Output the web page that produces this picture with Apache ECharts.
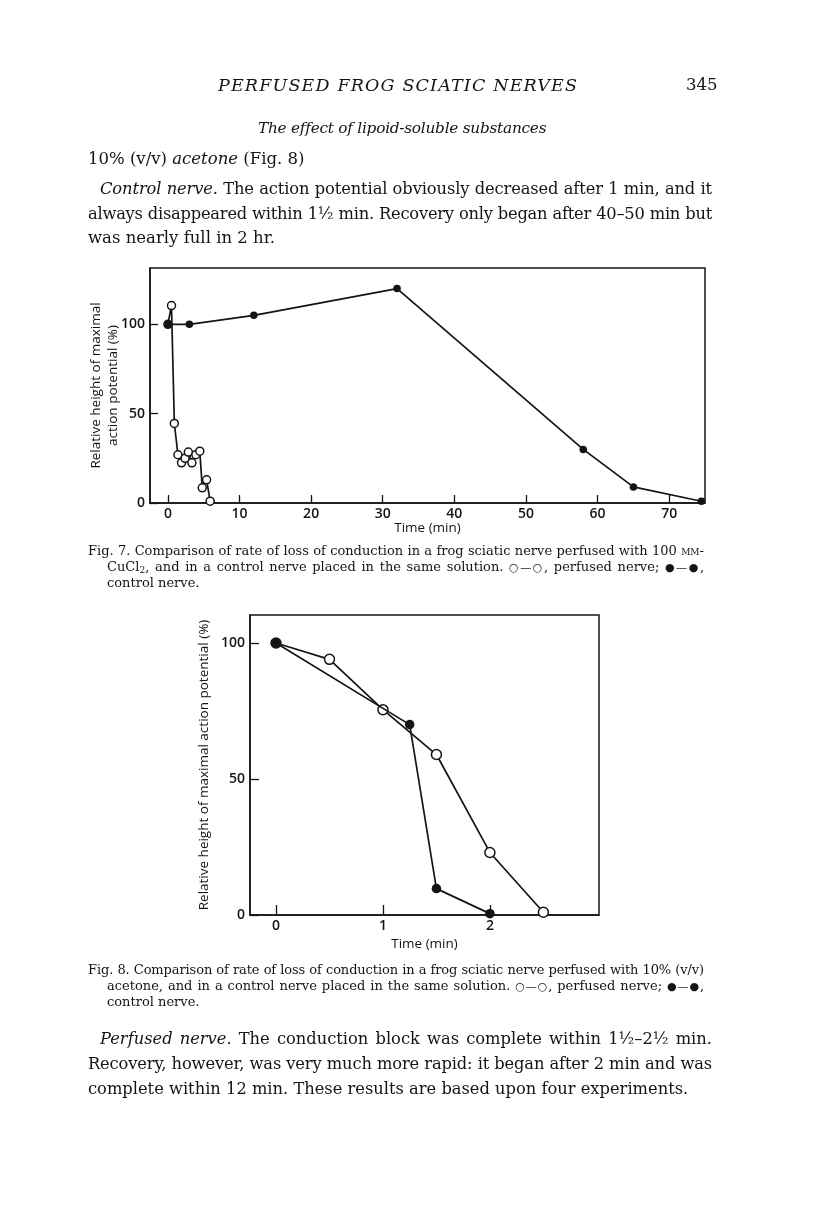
<!DOCTYPE html>
<html><head><meta charset="utf-8">
<script src="https://cdn.jsdelivr.net/npm/echarts@6/dist/echarts.min.js"></script>
<style>
html,body{margin:0;padding:0;background:#fff;}
#page{position:relative;width:816px;height:1221px;overflow:hidden;background:#fff;}
#chart{position:absolute;left:0;top:0;width:816px;height:1221px;}
.ln{position:absolute;white-space:nowrap;font-family:"DejaVu Serif","Liberation Serif",serif;color:#141414;}
.sc{font-variant:small-caps;}
.sym{font-size:0.85em;}
sub{font-size:0.7em;vertical-align:-0.25em;line-height:0;}
</style></head>
<body><div id="page"><div id="chart"></div></div>
<script>
// ---------- chart data ----------
// Fig. 7 (100 mM-CuCl2)
const fig7XTicks = [0, 10, 20, 30, 40, 50, 60, 70];
const fig7YTicks = [0, 50, 100];
const fig7Perfused = [[0,100],[0.5,110.5],[0.9,44.5],[1.4,27],[1.9,22.5],[2.4,25],[2.85,28.5],[3.35,22.5],[3.9,27],[4.45,29],[4.8,8.5],[5.4,13],[5.9,1]];
const fig7Control = [[0,100],[3,100],[12,105],[32,120],[58,30],[65,9],[74.5,1]];
// Fig. 8 (10% acetone)
const fig8XTicks = [0, 1, 2];
const fig8YTicks = [0, 50, 100];
const fig8Perfused = [[0,100],[0.5,94],[1,75.5],[1.5,59],[2,23],[2.5,1]];
const fig8Control = [[0,100],[1.25,70],[1.5,9.7],[2,0.5]];

// ---------- page text ----------
const textLines = [
  {x:218, y:85, w:359, size:17.5, lh:22, italic:true, mode:'fit', html:'PERFUSED FROG SCIATIC NERVES'},
  {x:686, y:85, size:16.5, lh:22, html:'345'},
  {x:258, y:128, w:288, size:15.3, lh:22, italic:true, mode:'fit', html:'The effect of lipoid-soluble substances'},
  {x:88, y:159, size:16.5, lh:22, html:'10% (v/v) <i>acetone</i> (Fig. 8)'},
  {x:100, y:189, w:612, size:16.3, lh:22, mode:'justify', html:'<i>Control nerve.</i> The action potential obviously decreased after 1 min, and it'},
  {x:88, y:214, w:624, size:16.3, lh:22, mode:'justify', html:'always disappeared within 1½ min. Recovery only began after 40–50 min but'},
  {x:88, y:238, size:16.5, lh:22, html:'was nearly full in 2 hr.'},
  {x:88, y:551, w:616, size:13, lh:16, mode:'justify', html:'Fig. 7. Comparison of rate of loss of conduction in a frog sciatic nerve perfused with 100 <span class="sc">mm</span>-'},
  {x:107, y:567, w:597, size:13, lh:16, mode:'justify', html:'CuCl<sub>2</sub>, and in a control nerve placed in the same solution. <span class="sym">○—○</span>, perfused nerve; <span class="sym">●—●</span>,'},
  {x:107, y:583, size:13, lh:16, html:'control nerve.'},
  {x:88, y:970, w:616, size:13, lh:16, mode:'justify', html:'Fig. 8. Comparison of rate of loss of conduction in a frog sciatic nerve perfused with 10% (v/v)'},
  {x:107, y:986, w:597, size:13, lh:16, mode:'justify', html:'acetone, and in a control nerve placed in the same solution. <span class="sym">○—○</span>, perfused nerve; <span class="sym">●—●</span>,'},
  {x:107, y:1002, size:13, lh:16, html:'control nerve.'},
  {x:100, y:1039, w:612, size:16.3, lh:22, mode:'justify', html:'<i>Perfused nerve.</i> The conduction block was complete within 1½–2½ min.'},
  {x:88, y:1064, w:624, size:16.3, lh:22, mode:'justify', html:'Recovery, however, was very much more rapid: it began after 2 min and was'},
  {x:88, y:1089, size:16.3, lh:22, html:'complete within 12 min. These results are based upon four experiments.'}
];

function layoutText(){
  const page = document.getElementById('page');
  textLines.forEach(L => {
    const d = document.createElement('div');
    d.className = 'ln';
    d.style.left = L.x + 'px';
    d.style.top = (L.y - L.lh/2) + 'px';
    d.style.fontSize = L.size + 'px';
    d.style.lineHeight = L.lh + 'px';
    if (L.italic) d.style.fontStyle = 'italic';
    d.innerHTML = L.html;
    page.appendChild(d);
    if (L.w) {
      const nat = d.getBoundingClientRect().width;
      const n = d.textContent.length;
      if (L.mode === 'fit') {
        d.style.letterSpacing = ((L.w - nat) / (n - 1)) + 'px';
      } else {
        if (nat > L.w) d.style.letterSpacing = ((L.w - nat) / n - 0.03) + 'px';
        d.style.whiteSpace = 'normal';
        d.style.width = L.w + 'px';
        d.style.textAlign = 'justify';
        d.style.textAlignLast = 'justify';
      }
    }
  });
}
layoutText();

// ---------- chart ----------
const ink = '#141414';
const sans = 'Open Sans';
const labelStyle = {fontFamily: sans, fontSize: 14, fontWeight: 600, color: ink};
function xAx(grid, min, max, ticks, tickLen, margin, gap){
  return {
    gridIndex: grid, type: 'value', min: min, max: max,
    axisLine: {show: true, onZero: false, lineStyle: {color: ink, width: 1.5}},
    axisTick: {show: true, inside: true, length: tickLen, customValues: ticks, lineStyle: {color: ink, width: 1.3}},
    axisLabel: Object.assign({customValues: ticks, margin: margin}, labelStyle),
    splitLine: {show: false},
    name: 'Time (min)', nameLocation: 'middle', nameGap: gap, nameMoveOverlap: false,
    nameTextStyle: {fontFamily: sans, fontSize: 13.5, fontWeight: 500, color: ink}
  };
}
function yAx(grid, max, ticks, tickLen, name, gap){
  return {
    gridIndex: grid, type: 'value', min: 0, max: max,
    axisLine: {show: true, onZero: false, lineStyle: {color: ink, width: 1.5}},
    axisTick: {show: true, inside: true, length: tickLen, customValues: ticks, lineStyle: {color: ink, width: 1.3}},
    axisLabel: Object.assign({customValues: ticks, margin: 5}, labelStyle),
    splitLine: {show: false},
    name: name, nameLocation: 'middle', nameRotate: 90, nameGap: gap, nameMoveOverlap: false,
    nameTextStyle: {fontFamily: sans, fontSize: 13.5, fontWeight: 500, color: ink, lineHeight: 17, align: 'center'}
  };
}
function openSeries(xi, data, size){
  return {type: 'line', xAxisIndex: xi, yAxisIndex: xi, data: data, symbol: 'circle', symbolSize: size,
    showAllSymbol: true, lineStyle: {color: ink, width: 1.7},
    itemStyle: {color: '#fff', borderColor: ink, borderWidth: 1.5}, z: 2};
}
function filledSeries(xi, data, size){
  return {type: 'line', xAxisIndex: xi, yAxisIndex: xi, data: data, symbol: 'circle', symbolSize: size,
    showAllSymbol: true, lineStyle: {color: ink, width: 1.7},
    itemStyle: {color: ink, borderColor: ink, borderWidth: 0}, z: 3};
}

const chart = echarts.init(document.getElementById('chart'), null, {renderer: 'canvas'});
chart.setOption({
  animation: false,
  backgroundColor: 'transparent',
  grid: [
    {left: 150, top: 268, width: 555, height: 235, show: true, borderColor: ink, borderWidth: 1.5, backgroundColor: 'transparent'},
    {left: 250, top: 615, width: 349, height: 300, show: true, borderColor: ink, borderWidth: 1.5, backgroundColor: 'transparent'}
  ],
  xAxis: [
    xAx(0, -2.5, 75, fig7XTicks, 8, 4, 18),
    xAx(1, -0.243, 3.02, fig8XTicks, 10, 4, 22)
  ],
  yAxis: [
    yAx(0, 131.5, fig7YTicks, 8, 'Relative height of maximal\naction potential (%)', 28),
    yAx(1, 110.3, fig8YTicks, 9, 'Relative height of maximal action potential (%)', 37)
  ],
  series: [
    openSeries(0, fig7Perfused, 8),
    filledSeries(0, fig7Control, 7.5),
    openSeries(1, fig8Perfused, 10),
    filledSeries(1, fig8Control, 9.5)
  ]
});
</script>
</body></html>
